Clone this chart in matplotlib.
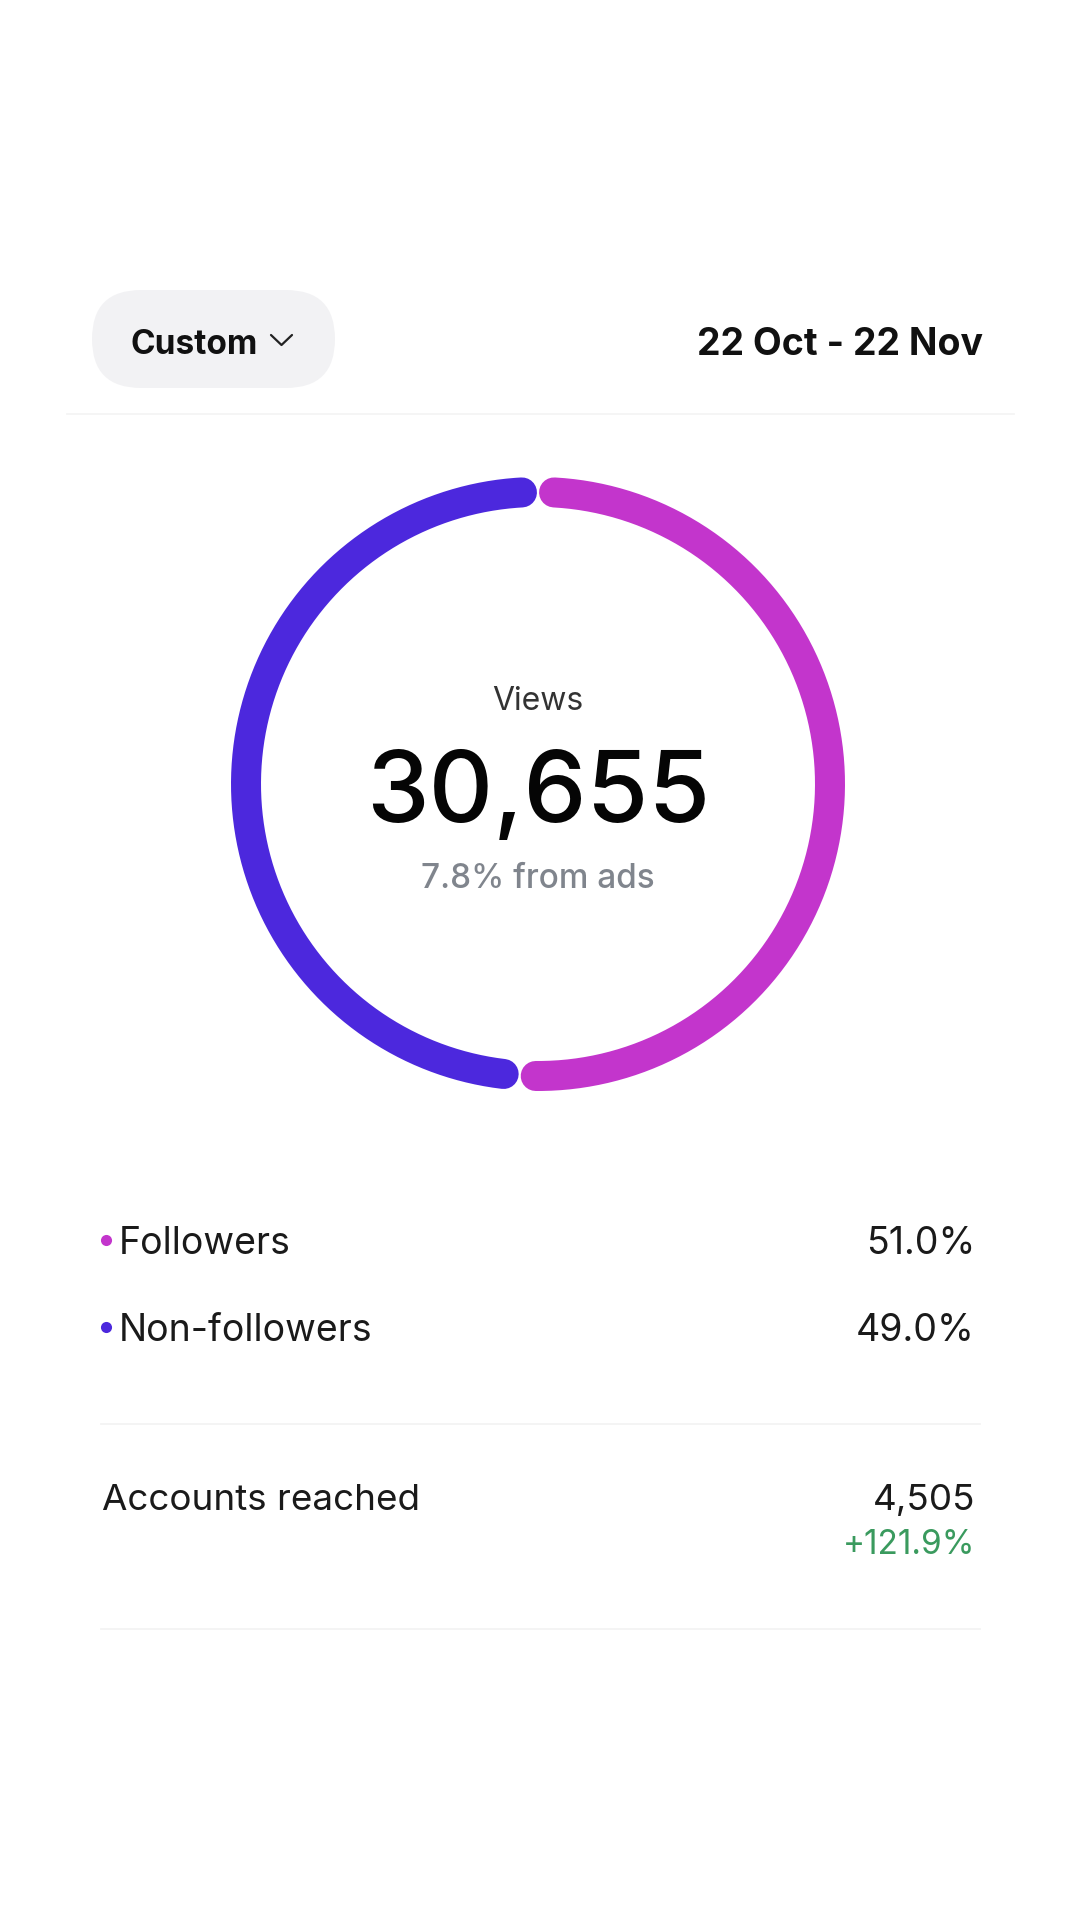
import matplotlib.pyplot as plt
import numpy as np
from matplotlib.patches import FancyBboxPatch

# data
segments = ["Followers", "Non-followers"]
shares = [51.0, 49.0]
seg_colors = ["#C335CC", "#4C28DD"]
total_views = "30,655"
ads_note = "7.8% from ads"
date_range = "22 Oct - 22 Nov"
period = "Custom"
metric_label = "Accounts reached"
metric_value = "4,505"
metric_change = "+121.9%"

W, H = 1080, 1920
fig = plt.figure(figsize=(W / 100, H / 100), dpi=100)
ax = fig.add_axes([0, 0, 1, 1])
ax.set_xlim(0, W)
ax.set_ylim(H, 0)
ax.axis("off")

FONT = ["Inter", "DejaVu Sans"]

# top bar: pill + date
pill = FancyBboxPatch((92, 290), 243, 98, boxstyle="round,pad=0,rounding_size=49",
                      fc="#F2F2F4", ec="none")
ax.add_patch(pill)
ax.text(131, 341, period, fontsize=24, fontweight="bold", family=FONT,
        color="#111111", ha="left", va="center_baseline")
ax.plot([271, 281.5, 292], [335, 345, 335], color="#222222", lw=1.6,
        solid_capstyle="round", solid_joinstyle="round")
ax.text(983, 341, date_range, fontsize=27, fontweight="bold", family=FONT,
        color="#111111", ha="right", va="center_baseline")
ax.plot([67, 1014], [414, 414], color="#F3F3F3", lw=1.2)

# ring
cx, cy, r = 538, 784, 292
width_pt = 30 * 72 / 100
gap = 3.15  # degrees trimmed at each end for the rounded caps
start = 0.0  # clockwise from 12 o'clock
for share, col in zip(shares, seg_colors):
    sweep = share / sum(shares) * 360
    a = np.radians(np.linspace(start + gap, start + sweep - gap, 300))
    ax.plot(cx + r * np.sin(a), cy - r * np.cos(a), color=col, lw=width_pt,
            solid_capstyle="round")
    start += sweep

ax.text(cx, 698, "Views", fontsize=23, family=FONT, color="#333333",
        ha="center", va="center_baseline")
ax.text(cx, 786, total_views, fontsize=72, family=FONT, fontweight="medium",
        color="#050505", ha="center", va="center_baseline")
ax.text(cx, 876, ads_note, fontsize=24, family=FONT, fontweight="medium",
        color="#80858D", ha="center", va="center_baseline")

# legend rows
row_y = [1240, 1327]
for name, share, col, y in zip(segments, shares, seg_colors, row_y):
    ax.plot(106, y, "o", ms=8, color=col, mec="none")
    ax.text(119, y, name, fontsize=27, family=FONT, color="#1A1A1A",
            ha="left", va="center_baseline")
    ax.text(975, y, f"{share:.1f}%", fontsize=27, family=FONT, color="#1A1A1A",
            ha="right", va="center_baseline")

ax.plot([101, 980], [1424, 1424], color="#F2F2F2", lw=1.2)
ax.text(102, 1497, metric_label, fontsize=26.5, family=FONT, color="#1A1A1A",
        ha="left", va="center_baseline")
ax.text(975, 1497, metric_value, fontsize=26.5, family=FONT, color="#1A1A1A",
        ha="right", va="center_baseline")
ax.text(975, 1542, metric_change, fontsize=24, family=FONT, color="#3A9A5E",
        ha="right", va="center_baseline")
ax.plot([101, 980], [1629, 1629], color="#F2F2F2", lw=1.2)

fig.savefig("out.png", dpi=100, facecolor="white")
